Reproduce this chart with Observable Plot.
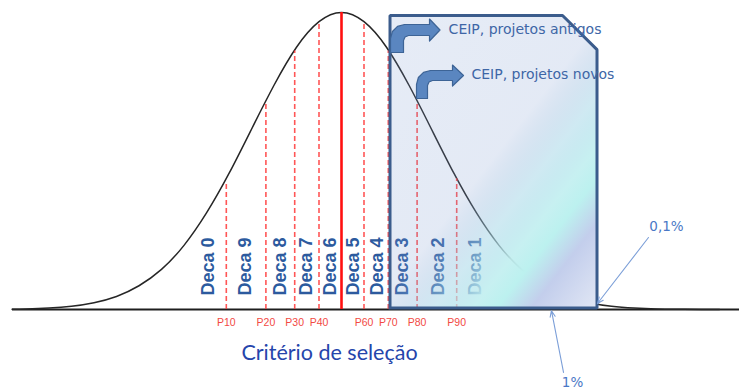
<!DOCTYPE html>
<html><head><meta charset="utf-8">
<script src="https://cdn.jsdelivr.net/npm/d3@7"></script>
<script src="https://cdn.jsdelivr.net/npm/@observablehq/plot@0.6"></script>
<style>body{margin:0;background:#fff;} #chart{width:739px;height:391px;}</style>
</head><body><div id="chart"></div>
<script>
// Bell curve (x in standard deviations, height relative to peak)
const curveZ = [-3.66,-3.5,-3.25,-3.0,-2.75,-2.5,-2.25,-2.0,-1.75,-1.5,-1.25,-1.0,-0.75,-0.5,-0.25,0,0.25,0.5,0.75,1.0,1.25,1.5,1.75,2.0,2.25,2.5,2.75,3.0,3.25,3.5,3.75,4.0,4.2];
const curveH = [0.001,0.002,0.005,0.011,0.023,0.044,0.08,0.135,0.216,0.325,0.458,0.607,0.755,0.883,0.969,1,0.969,0.883,0.755,0.607,0.458,0.325,0.216,0.135,0.08,0.044,0.023,0.011,0.005,0.002,0.001,0.0003,0];

// Percentile lines
const pctNames = ["P10","P20","P30","P40","P50","P60","P70","P80","P90"];
const pctZ = [-1.28,-0.84,-0.52,-0.25,0,0.25,0.52,0.84,1.28];
const pctH = [0.43,0.70,0.87,0.97,1,0.97,0.87,0.70,0.44];
const pctShowLabel = [true,true,true,true,false,true,true,true,true];

// Decile labels
const decaNames = ["Deca 0","Deca 9","Deca 8","Deca 7","Deca 6","Deca 5","Deca 4","Deca 3","Deca 2","Deca 1"];
const decaZ = [-1.48,-1.07,-0.68,-0.39,-0.12,0.13,0.40,0.68,1.07,1.49];

// Selection box (top edge with cut corner)
const boxTopZ = [0.539,2.456,2.839];
const boxTopH = [0.99,0.99,0.875];
const boxOutlineZ = [0.539,0.539,2.456,2.839,2.839,0.539];
const boxOutlineH = [0.005,0.99,0.99,0.875,0.005,0.005];

// Bent arrows (outline polygons)
const arrow1Z = [0.5444,0.5444,0.5656,0.6222,0.7000,0.9778,0.9778,1.0944,0.9778,0.9778,0.7444,0.7056,0.6889,0.6889,0.5444];
const arrow1H = [0.8653,0.9125,0.9360,0.9532,0.9596,0.9596,0.9781,0.9411,0.9040,0.9226,0.9226,0.9175,0.9057,0.8653,0.8653];
const arrow2Z = [0.8333,0.8333,0.8544,0.9111,0.9889,1.2333,1.2333,1.3556,1.2333,1.2333,1.0111,0.9722,0.9556,0.9556,0.8333];
const arrow2H = [0.7104,0.7576,0.7811,0.7983,0.8047,0.8047,0.8232,0.7879,0.7525,0.7710,0.7710,0.7660,0.7542,0.7104,0.7104];

// Annotation texts
const ceipTexts = ["CEIP, projetos antigos","CEIP, projetos novos"];
const ceipZ = [1.19,1.444];
const ceipH = [0.944,0.791];
const pctNotes = ["0,1%","1%"];
const noteZ = [3.611,2.567];
const noteH = [0.278,-0.246];
const noteArrowFromZ = [3.411,2.467];
const noteArrowFromH = [0.2424,-0.212];
const noteArrowToZ = [2.844,2.333];
const noteArrowToH = [0.0202,-0.004];
const axisTitle = "Critério de seleção";

const zip = (xs, ys) => xs.map((z,i) => ({z, h: ys[i]}));
const curve = zip(curveZ, curveH);
const pct = pctNames.map((n,i) => ({name:n, z:pctZ[i], h:pctH[i], show:pctShowLabel[i], base:0, ly:-0.044}));
const deca = decaNames.map((n,i) => ({name:n, z:decaZ[i], h:0.047}));
const ceip = ceipTexts.map((t,i) => ({t, z:ceipZ[i], h:ceipH[i]}));
const notes = pctNotes.map((t,i) => ({t, z:noteZ[i], h:noteH[i]}));
const noteArrows = pctNotes.map((t,i) => ({ax1:noteArrowFromZ[i], ay1:noteArrowFromH[i], ax2:noteArrowToZ[i], ay2:noteArrowToH[i]}));
const boxTop = boxTopZ.map((z,i) => ({z, h: boxTopH[i], b: 0.005}));
const baseline = [{a:-3.656, b:4.43, h:0}];
const title = [{t: axisTitle, z:-0.133, h:-0.148}];

const plot = Plot.plot({
  width: 739, height: 391, margin: 0,
  x: {domain: [-341/90, 398/90], range: [0, 739], axis: null},
  y: {domain: [0, 1], range: [309, 12], axis: null},
  style: {background: "#fff", fontFamily: "Liberation Sans, Arial, sans-serif", overflow: "visible"},
  marks: [
    Plot.ruleY(baseline, {y: "h", x1: "a", x2: "b", stroke: "#1e1e1e", strokeWidth: 2}),
    Plot.line(curve, {x: "z", y: "h", curve: "natural", stroke: "#262626", strokeWidth: 1.5}),
    Plot.ruleX(pct.filter(d => d.name !== "P50"), {x: "z", y1: "base", y2: "h", stroke: "#FF3838", strokeOpacity: 0.85, strokeWidth: 1.6, strokeDasharray: "5,3"}),
    Plot.ruleX(pct.filter(d => d.name === "P50"), {x: "z", y1: "base", y2: "h", stroke: "#FF1010", strokeWidth: 2.6}),
    Plot.text(deca, {x: "z", y: "h", text: "name", rotate: -90, textAnchor: "start", lineAnchor: "middle",
      fontSize: 18, fontWeight: "bold", fill: "#2C5A9E", fontFamily: "Liberation Sans"}),
    Plot.text(pct.filter(d => d.show), {x: "z", y: "ly", text: "name", fontSize: 10.5, fill: "#F24A44", fontFamily: "Liberation Sans"}),
    Plot.areaY(boxTop, {x: "z", y1: "b", y2: "h", fill: "url(#boxGrad)"}),
    Plot.line(zip(boxOutlineZ, boxOutlineH), {x: "z", y: "h", stroke: "#3B5C8C", strokeWidth: 3, strokeLinejoin: "miter", strokeLinecap: "square"}),
    Plot.line(zip(arrow1Z, arrow1H), {x: "z", y: "h", fill: "#5A86C0", stroke: "#3D6496", strokeWidth: 1.2}),
    Plot.line(zip(arrow2Z, arrow2H), {x: "z", y: "h", fill: "#5A86C0", stroke: "#3D6496", strokeWidth: 1.2}),
    Plot.text(ceip, {x: "z", y: "h", text: "t", textAnchor: "start", fontSize: 14, fill: "#3E66A6", fontFamily: "DejaVu Sans"}),
    Plot.arrow(noteArrows, {x1: "ax1", y1: "ay1", x2: "ax2", y2: "ay2", stroke: "#7C9FD8", strokeWidth: 1.1, headLength: 9, headAngle: 45}),
    Plot.text(notes, {x: "z", y: "h", text: "t", fontSize: 13.5, fill: "#4A78C6", fontFamily: "DejaVu Sans"}),
    Plot.text(title, {x: "z", y: "h", text: "t", fontSize: 21.5, fill: "#2545AB", fontFamily: "Lato"})
  ]
});

// gradient used by the selection box
const svg = d3.select(plot);
const defs = svg.insert("defs", ":first-child");
const g = defs.append("linearGradient").attr("id", "boxGrad").attr("gradientUnits", "userSpaceOnUse")
  .attr("x1", 249.6).attr("y1", 192.8).attr("x2", 521.4).attr("y2", 402.6);
[[0,"#7C9AD0",0.19],[0.5,"#7C9AD0",0.21],[0.63,"#A8D8E8",0.55],[0.72,"#C2EFF0",0.92],[0.775,"#BCF1EF",1],[0.855,"#C3CEEC",1],[1,"#E0E6F4",1]]
  .forEach(([o,c,a]) => g.append("stop").attr("offset", o).attr("stop-color", c).attr("stop-opacity", a));

document.getElementById("chart").appendChild(plot);
</script>
</body></html>
